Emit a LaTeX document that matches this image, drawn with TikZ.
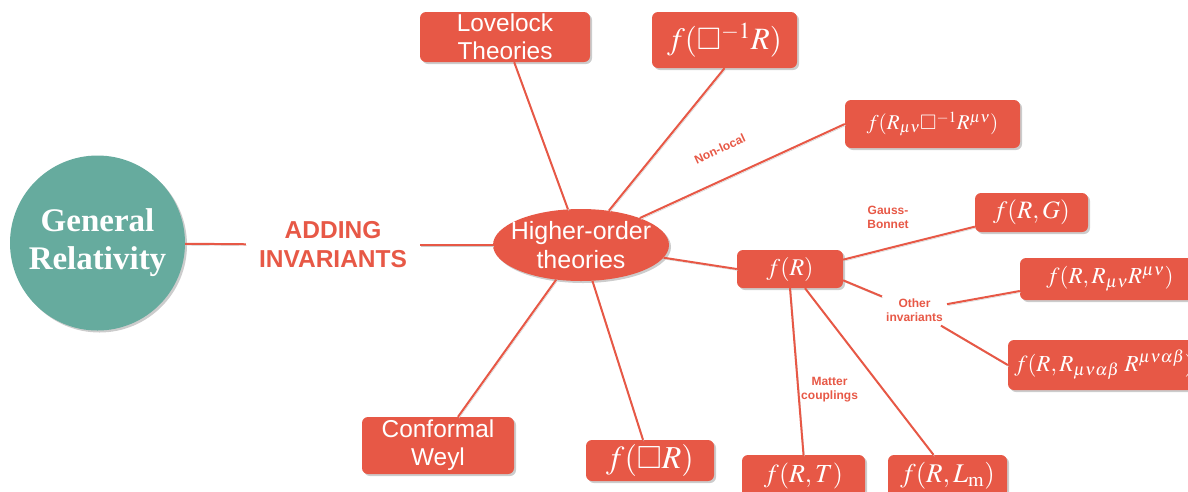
\documentclass[tikz,border=0pt]{standalone}
\usepackage{amssymb}
\usepackage{mathptmx}
\usepackage[no-math]{fontspec}
\setmainfont{Liberation Serif}
\setsansfont{Liberation Sans}
\usetikzlibrary{shapes.geometric,shadows}
\definecolor{hred}{RGB}{231,88,70}
\definecolor{gteal}{RGB}{102,171,158}
\tikzset{
  box/.style={rectangle, rounded corners=6pt, fill=hred, text=white, inner sep=0pt,
    drop shadow={shadow xshift=2pt, shadow yshift=-2pt, fill=black!40, opacity=0.5}},
  link/.style={draw=hred, line width=2pt,
    preaction={draw=black!20, transform canvas={shift={(1pt,-1.5pt)}}}},
  tag/.style={text=hred, font=\sffamily\bfseries\fontsize{12}{14}\selectfont, align=center, inner sep=0pt}
}
\begin{document}
\begin{tikzpicture}[x=1pt,y=-1pt]
	\useasboundingbox (0,0) rectangle (1188,491);
	\clip (0,0) rectangle (1188,491);
	% start and middle
	\node[circle, fill=gteal, minimum size=175pt, inner sep=0pt, text=white, align=center,
	  font=\bfseries\fontsize{33}{38}\selectfont,
	  drop shadow={shadow xshift=2pt, shadow yshift=-2pt, fill=black!40, opacity=0.5}] (gr) at (97.5,243) {General\\Relativity};
	\node[text=hred, font=\sffamily\bfseries\fontsize{24.5}{29}\selectfont, align=center, inner xsep=13pt] (add) at (333,245) {ADDING\\INVARIANTS};
	\node[ellipse, fill=hred, minimum width=176pt, minimum height=72pt, inner sep=0pt,
	  drop shadow={shadow xshift=2pt, shadow yshift=-2pt, fill=black!40, opacity=0.5},
	  label={[name=hotext, text=white, align=center, font=\sffamily\fontsize{25}{29}\selectfont]center:{Higher-order\\theories}}] (ho) at (581,245) {};
	% theories
	\node[box, minimum width=170pt, minimum height=50pt, align=center, font=\sffamily\fontsize{24.4}{28}\selectfont] (lov) at (505,37) {Lovelock\\Theories};
	\node[box, minimum width=145pt, minimum height=56pt, font=\fontsize{31}{33}\selectfont] (fbi) at (724.5,40) {$f(\square^{-1}R)$};
	\node[box, minimum width=175pt, minimum height=48pt, font=\fontsize{21}{24}\selectfont] (nl) at (932.5,124) {$f(R_{\mu\nu}\square^{-1}R^{\mu\nu})$};
	\node[box, minimum width=106pt, minimum height=38pt, font=\fontsize{24}{26}\selectfont] (fR) at (790,269) {$f(R)$};
	\node[box, minimum width=113pt, minimum height=39pt, font=\fontsize{25}{27}\selectfont] (fRG) at (1031.5,212.5) {$f(R,G)$};
	\node[box, minimum width=180pt, minimum height=42pt, font=\fontsize{23}{25}\selectfont] (rr) at (1110,279) {$f(R,R_{\mu\nu}R^{\mu\nu})$};
	\node[box, minimum width=192pt, minimum height=50pt, font=\fontsize{23}{25}\selectfont] (rr4) at (1104,365) {$f(R,R_{\mu\nu\alpha\beta}\;R^{\mu\nu\alpha\beta})$};
	\node[box, minimum width=152pt, minimum height=57pt, align=center, font=\sffamily\fontsize{24.4}{28}\selectfont] (cw) at (438,445.5) {Conformal\\Weyl};
	\node[box, minimum width=128pt, minimum height=41pt, font=\fontsize{32}{34}\selectfont] (fbr) at (650,460.5) {$f(\square R)$};
	\node[box, minimum width=123pt, minimum height=42pt, font=\fontsize{26}{28}\selectfont] (fRT) at (803.5,476) {$f(R,T)$};
	\node[box, minimum width=119pt, minimum height=42pt, font=\fontsize{27}{29}\selectfont] (fRL) at (947.5,476) {$f(R,L_{\mathrm{m}})$};
	\node[tag, inner sep=4pt] (oi) at (914.5,310) {Other\\invariants};
	% connectors
	\draw[link] (gr) -- (add);
	\draw[link] (add) -- (ho);
	\draw[link] (lov) -- (ho);
	\draw[link] (fbi.south) -- (ho);
	\draw[link] (ho) -- (nl.west) node[tag, pos=0.45, above=24pt, sloped] (nonloc) {Non-local};
	\draw[link] (ho) -- (fR.west);
	\draw[link] (ho) -- ([xshift=20pt]cw.north);
	\draw[link] (ho) -- ([xshift=-7pt]fbr.north);
	\draw[link] (fR.10) -- (fRG.194) node[tag, midway, above=14pt, xshift=-21pt] (gb) {Gauss-\\Bonnet};
	\draw[link] (fR.-12) -- (oi);
	\draw[link] (oi) -- ([yshift=-12pt]rr.west);
	\draw[link] (oi) -- (rr4.west);
	\draw[link] (fR.south) -- (fRT.north) node[tag, pos=0.61, right=2pt] (mc) {Matter\\couplings};
	\draw[link] (fR.-52) -- ([xshift=-14pt]fRL.north);
\end{tikzpicture}
\end{document}
